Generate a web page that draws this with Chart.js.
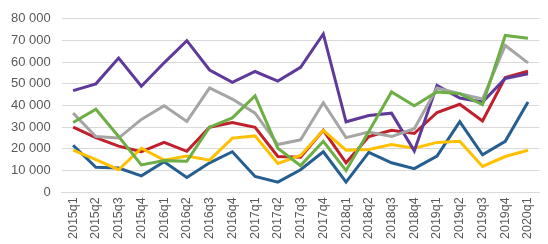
<!DOCTYPE html>
<html>
<head>
<meta charset="utf-8">
<script src="https://cdn.jsdelivr.net/npm/chart.js@4/dist/chart.umd.min.js"></script>
<style>
html,body{margin:0;padding:0;background:#fff;}
#wrap{width:548px;height:244px;}
</style>
</head>
<body>
<div id="wrap"><canvas id="c" width="548" height="244"></canvas></div>
<script>
const categories = ["2015q1","2015q2","2015q3","2015q4","2016q1","2016q2","2016q3","2016q4","2017q1","2017q2","2017q3","2017q4","2018q1","2018q2","2018q3","2018q4","2019q1","2019q2","2019q3","2019q4","2020q1"];
const blueSeries   = [21700,11500,11200,7600,14100,6800,13600,18700,7300,4700,10400,18700,4700,18400,13600,10900,16700,32600,17300,23500,41600];
const redSeries    = [30000,25200,21300,18700,23000,18900,30000,32200,30000,16500,16200,28600,13600,25700,28600,27100,36800,40600,32900,52900,55800];
const graySeries   = [36500,25700,25000,33600,39900,32700,48100,43000,36500,22000,24200,41300,25200,27800,25700,29300,48100,45500,43000,67700,59700];
const yellowSeries = [19400,15100,10400,20300,14800,16700,14800,25000,26000,13300,17000,28600,19400,19700,22000,20300,23000,23500,11900,16500,19400];
const greenSeries  = [32200,38300,25700,12600,14600,14300,30000,34300,44500,20300,12300,23500,10000,28000,46300,39900,46300,45500,40400,72300,71000];
const purpleSeries = [46900,50000,61900,48900,59700,69900,56400,50700,55700,51300,57600,73000,32500,35400,36500,19100,49300,43500,41600,52500,54600];
const yTicks = [0,10000,20000,30000,40000,50000,60000,70000,80000];

function fmt(v){ return String(v).replace(/\B(?=(\d{3})+(?!\d))/g, " "); }
function ds(data, color, order){
  return {data, borderColor:color, backgroundColor:color, borderWidth:3, pointRadius:0, tension:0, fill:false, order};
}
new Chart(document.getElementById('c'), {
  type:'line',
  data:{
    labels:categories,
    datasets:[
      ds(blueSeries,'#255E91',6),
      ds(redSeries,'#C0202B',5),
      ds(yellowSeries,'#FFC000',4),
      ds(purpleSeries,'#5F3A9A',3),
      ds(graySeries,'#A5A5A5',2),
      ds(greenSeries,'#6DAE45',1)
    ]
  },
  options:{
    responsive:false,
    animation:false,
    maintainAspectRatio:false,
    layout:{padding:{top:0,right:0,left:0,bottom:0}},
    plugins:{legend:{display:false},tooltip:{enabled:false}},
    scales:{
      x:{
        offset:true,
        grid:{display:false, drawTicks:false},
        border:{display:true,color:'#D9D9D9',width:1},
        ticks:{color:'#595959',font:{family:'Liberation Sans',size:12.5},maxRotation:90,minRotation:90,autoSkip:false,padding:5}
      },
      y:{
        min:0,max:80000,
        afterBuildTicks:(axis)=>{axis.ticks = yTicks.map(v=>({value:v}));},
        grid:{color:'#D9D9D9',drawTicks:false,lineWidth:1},
        border:{display:false},
        ticks:{color:'#595959',font:{family:'Liberation Sans',size:13},padding:11,callback:(v)=>fmt(v)}
      }
    }
  }
});
</script>
</body>
</html>
